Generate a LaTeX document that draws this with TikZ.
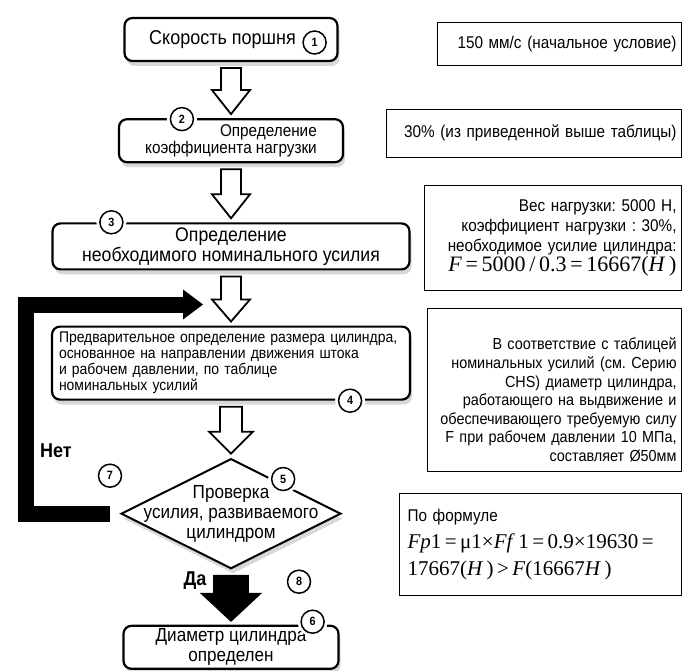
\documentclass[tikz,border=0pt]{standalone}
\usepackage{fontspec}
\setmainfont{Liberation Sans}[FakeStretch=0.9]
\newfontfamily\tnr{Liberation Serif}
\usetikzlibrary{positioning,shapes.geometric,shadows,calc}
\frenchspacing
% block arrow between two nodes: [fill]{from}{to}{half shaft}{half head}{head length}
\newcommand{\blockarrow}[6][white]{%
  \filldraw[line width=1.8pt, fill=#1, miter limit=20]
    let \p1=($(#2.south)+(0,-6pt)$), \p2=($(#3.north)+(0,4pt)$) in
    (\x1-#4,\y1) -- (\x1+#4,\y1) -- (\x1+#4,\y2+#6) -- (\x1+#5,\y2+#6)
    -- (\x1,\y2) -- (\x1-#5,\y2+#6) -- (\x1-#4,\y2+#6) -- cycle;}

\begin{document}
\begin{tikzpicture}[x=1pt, y=-1pt,
  stepbox/.style={draw, rounded corners=8pt, line width=2.2pt, fill=white, align=center,
    inner xsep=4pt, inner ysep=0pt,
    drop shadow={shadow xshift=2pt, shadow yshift=-5pt, fill=gray!60}},
  note/.style={draw, line width=0.9pt, anchor=north east, inner sep=4pt, align=right,
    font=\fontsize{17}{20}\selectfont},
  num/.style={circle, draw, line width=1.5pt, fill=white, minimum size=23pt, inner sep=0pt,
    font=\fontsize{12}{12}\selectfont\bfseries, preaction={draw=white, line width=7pt}},
  loopbar/.style={line width=16pt, line join=miter},
  tag/.style={font=\fontsize{20}{20}\selectfont\bfseries}]
  \useasboundingbox (0,0) rectangle (683,671);

  % main column
  \node[stepbox, minimum width=213pt, minimum height=43pt, font=\fontsize{20}{22}\selectfont]
    (st1) at (231,39.5) {Скорость поршня\hspace{17pt}};
  \node[stepbox, minimum width=224pt, minimum height=43pt, align=right, font=\fontsize{17}{15}\selectfont]
    (st2) [below=56pt of st1] {Определение\\коэффициента нагрузки};
  \node[stepbox, minimum width=357pt, minimum height=46pt, font=\fontsize{19.6}{20}\selectfont]
    (st3) [below=59pt of st2] {Определение\\необходимого номинального усилия};
  \node[stepbox, minimum width=358pt, minimum height=73pt, text width=344pt, align=left,
    font=\fontsize{15.5}{16}\selectfont]
    (st4) [below=55pt of st3] {Предварительное определение размера цилиндра,\\
      основанное на направлении движения штока\\и рабочем давлении, по таблице\\номинальных усилий};
  \node[diamond, draw, line width=2pt, fill=white, minimum width=220pt, minimum height=110pt, inner sep=0pt,
    drop shadow={shadow xshift=2pt, shadow yshift=-5pt, fill=gray!60}]
    (chk) [below=57pt of st4] {};
  \node[align=center, font=\fontsize{19}{20}\selectfont] (chkt) at (chk) {Проверка\\усилия, развиваемого\\цилиндром};
  \node[stepbox, minimum width=215pt, minimum height=43pt, font=\fontsize{19}{20}\selectfont]
    (st6) [below=55pt of chk] {Диаметр цилиндра\\определен};

  % arrows
  \blockarrow{st1}{st2}{10pt}{19pt}{24pt}
  \blockarrow{st2}{st3}{10pt}{19pt}{24pt}
  \blockarrow{st3}{st4}{10pt}{19pt}{22pt}
  \blockarrow{st4}{chk}{11pt}{22pt}{22pt}
  \blockarrow[black]{chk}{st6}{17pt}{29pt}{27pt}

  \coordinate (loopend) at ($(st3.south)+(-28,34)$);
  \draw[loopbar] ($(chk.west)+(-10,0)$) -- ++(-84,0) |- ($(loopend)+(-18,0)$);
  \fill (loopend) -- ++(-20,-15) -- ++(0,30) -- cycle;

  \node[tag] (no) at ($(chk.west)+(-64,-63)$) {Нет};
  \node[tag] (yes) at ($(chk.south)+(-36,11)$) {Да};

  % step numbers
  \node[num] (c1) at ($(st1.east)+(-24,3)$) {1};
  \node[num] (c2) at ($(st2.north west)+(64,1)$) {2};
  \node[num] (c3) at ($(st3.north west)+(60,0)$) {3};
  \node[num] (c4) at ($(st4.south east)+(-61,0)$) {4};
  \node[num] (c5) at ($(chk.north)!0.47!(chk.east)+(0,-5)$) {5};
  \node[num] (c6) at ($(st6.north east)+(-27,-3)$) {6};
  \node[num] (c7) at ($(chk.west)+(-10,-38)$) {7};
  \node[num] (c8) at ($(chk.south)+(68,12)$) {8};

  % notes
  \node[note, minimum width=244pt, minimum height=43pt, text width=234pt] (n1) at (682,22)
    {150 мм/с (начальное условие)};
  \node[note, minimum width=295pt, minimum height=48pt, text width=285pt] (n2) at (682,109)
    {30\% (из приведенной выше таблицы)};
  \node[note, minimum width=257pt, minimum height=105pt, text width=247pt] (n3) at (682,185)
    {Вес нагрузки: 5000 Н,\\коэффициент нагрузки : 30\%,\\необходимое усилие цилиндра:\\
     {\tnr\fontsize{22}{24}\selectfont\textit{F}\,=\,5000\,/\,0.3\,=\,16667(\textit{H}\,)}};
  \node[note, minimum width=254pt, minimum height=163pt, text width=244pt, font=\fontsize{16}{18.6}\selectfont]
    (n4) at (682,308)
    {\rule{0pt}{32pt}В соответствие с таблицей\\номинальных усилий (см. Серию\\CHS) диаметр цилиндра,\\
     работающего на выдвижение и\\обеспечивающего требуемую силу\\F при рабочем давлении 10 МПа,\\
     составляет Ø50мм};
  \node[note, minimum width=282pt, minimum height=102pt, text width=266pt, inner xsep=8pt, align=left,
    font=\fontsize{17}{27}\selectfont] (n5) at (682,493)
    {По формуле\\
     {\tnr\fontsize{21}{27}\selectfont\textit{Fp}1\,=\,μ1×\textit{Ff}\,1\,=\,0.9×19630\,=}\\
     {\tnr\fontsize{21}{27}\selectfont 17667(\textit{H}\,)\,>\,\textit{F}(16667\textit{H}\,)}};
\end{tikzpicture}
\end{document}
